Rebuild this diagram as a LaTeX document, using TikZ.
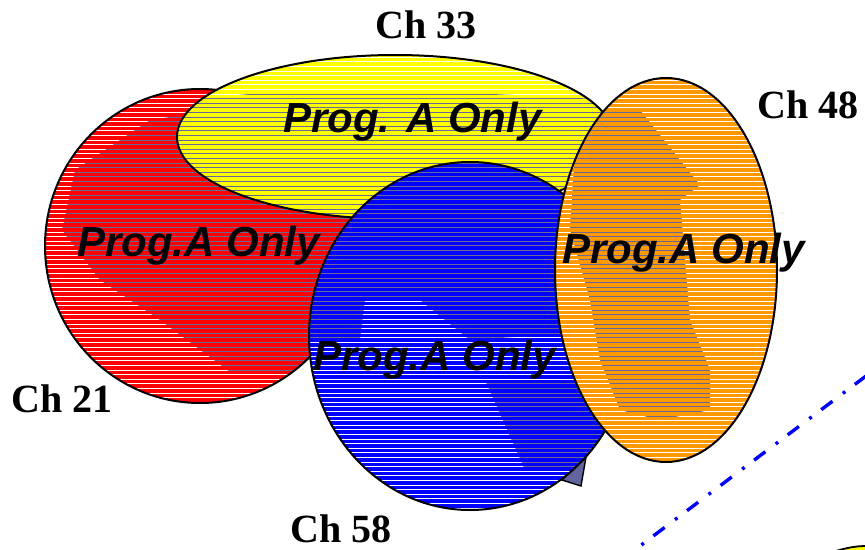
\documentclass[tikz,border=0pt]{standalone}
\usepackage{fontspec}
\setmainfont{Liberation Serif}
\newfontfamily\arialfont{Liberation Sans}
\definecolor{vred}{RGB}{255,0,0}
\definecolor{vyellow}{RGB}{255,255,0}
\definecolor{vblue}{RGB}{0,0,255}
\definecolor{vorange}{RGB}{255,153,0}
\definecolor{hgray}{RGB}{105,105,150}
\definecolor{trifill}{RGB}{98,100,155}
\newcommand\hatchrows[1]{\foreach \yy in {2,6.6,...,549}{\draw[#1,line width=0.9pt] (0,\yy) -- (865,\yy);}}
\tikzset{
  chlabel/.style={inner sep=0pt, font=\fontsize{40}{40}\selectfont\bfseries, anchor=base west},
  proglabel/.style={inner sep=0pt, font=\arialfont\fontsize{42}{42}\selectfont\bfseries\itshape, anchor=base west},
  outline/.style={draw=black, line width=2pt},
}
\begin{document}
\begin{tikzpicture}[x=1pt,y=-1pt]
\useasboundingbox (0,0) rectangle (865,549);
% red
\begin{scope}
  \clip (200,246) ellipse [x radius=155pt, y radius=157pt];
  \fill[vred] (0,0) rectangle (865,549);
  \hatchrows{white}
  \clip (75,170) -- (150,120) -- (230,108) -- (330,125) -- (358,200) -- (345,330) -- (300,372) -- (230,372) -- (160,320) -- (100,280) -- (62,230) -- cycle;
  \hatchrows{hgray}
\end{scope}
\draw[outline] (200,246) ellipse [x radius=155pt, y radius=157pt];
% yellow
\begin{scope}
  \clip (395,137) ellipse [x radius=218pt, y radius=82pt];
  \fill[vyellow] (0,0) rectangle (865,549);
  \hatchrows{white}
  \clip (175,100) -- (300,90) -- (450,92) -- (620,100) -- (620,230) -- (175,230) -- cycle;
  \hatchrows{hgray}
\end{scope}
\draw[outline] (395,137) ellipse [x radius=218pt, y radius=82pt];
% triangle
\coordinate (t1) at (562,480);
\coordinate (t2) at (581,486);
\coordinate (t3) at (586,457);
\filldraw[fill=trifill, draw=black, line width=1.4pt] (t1) -- (t2) -- (t3) -- cycle;
% blue
\begin{scope}
  \clip (470,336) ellipse [x radius=161pt, y radius=174pt];
  \fill[vblue] (0,0) rectangle (865,549);
  \hatchrows{white}
  \begin{scope}
    \clip (300,160) -- (620,160) -- (620,330) -- (470,340) -- (420,300) -- (365,300) -- (360,340) -- (300,340) -- cycle;
    \hatchrows{hgray}
  \end{scope}
  \begin{scope}
    \clip (485,380) -- (600,380) -- (610,470) -- (525,470) -- cycle;
    \hatchrows{hgray}
  \end{scope}
\end{scope}
\draw[outline] (470,336) ellipse [x radius=161pt, y radius=174pt];
% orange
\begin{scope}
  \clip (666,270) ellipse [x radius=111pt, y radius=192pt];
  \fill[vorange] (0,0) rectangle (865,549);
  \hatchrows{white}
  \clip (585,108) -- (640,110) -- (700,185) -- (680,200) -- (690,320) -- (710,370) -- (710,410) -- (660,420) -- (620,410) -- (600,360) -- (590,300) -- (570,230) -- (575,150) -- cycle;
  \hatchrows{hgray}
\end{scope}
\draw[outline] (666,270) ellipse [x radius=111pt, y radius=192pt];
% dash-dot line
\coordinate (d1) at (866,376);
\coordinate (d2) at (636,549);
\draw[vblue, line width=3.4pt, dash pattern=on 14pt off 12pt on 3pt off 13pt] (d1) -- (d2);
% corner arc
\coordinate (c1) at (836,551);
\coordinate (c2) at (866,546);
\filldraw[fill=vyellow, draw=black, line width=1.8pt] (c1) .. controls (846,548) and (856,546) .. (c2) -- (867,552) -- cycle;
% labels
\node[chlabel] (ch33) at (375,38) {Ch 33};
\node[chlabel] (ch48) at (757,118) {Ch 48};
\node[chlabel] (ch21) at (11,412) {Ch 21};
\node[chlabel] (ch58) at (290,542) {Ch 58};
\node[proglabel] (py) at (283,132) {Prog. A Only};
\node[proglabel] (pr) at (77,256) {Prog.A Only};
\node[proglabel] (po) at (562,263) {Prog.A Only};
\node[proglabel] (pb) at (313,370) {Prog.A Only};
\end{tikzpicture}
\end{document}
